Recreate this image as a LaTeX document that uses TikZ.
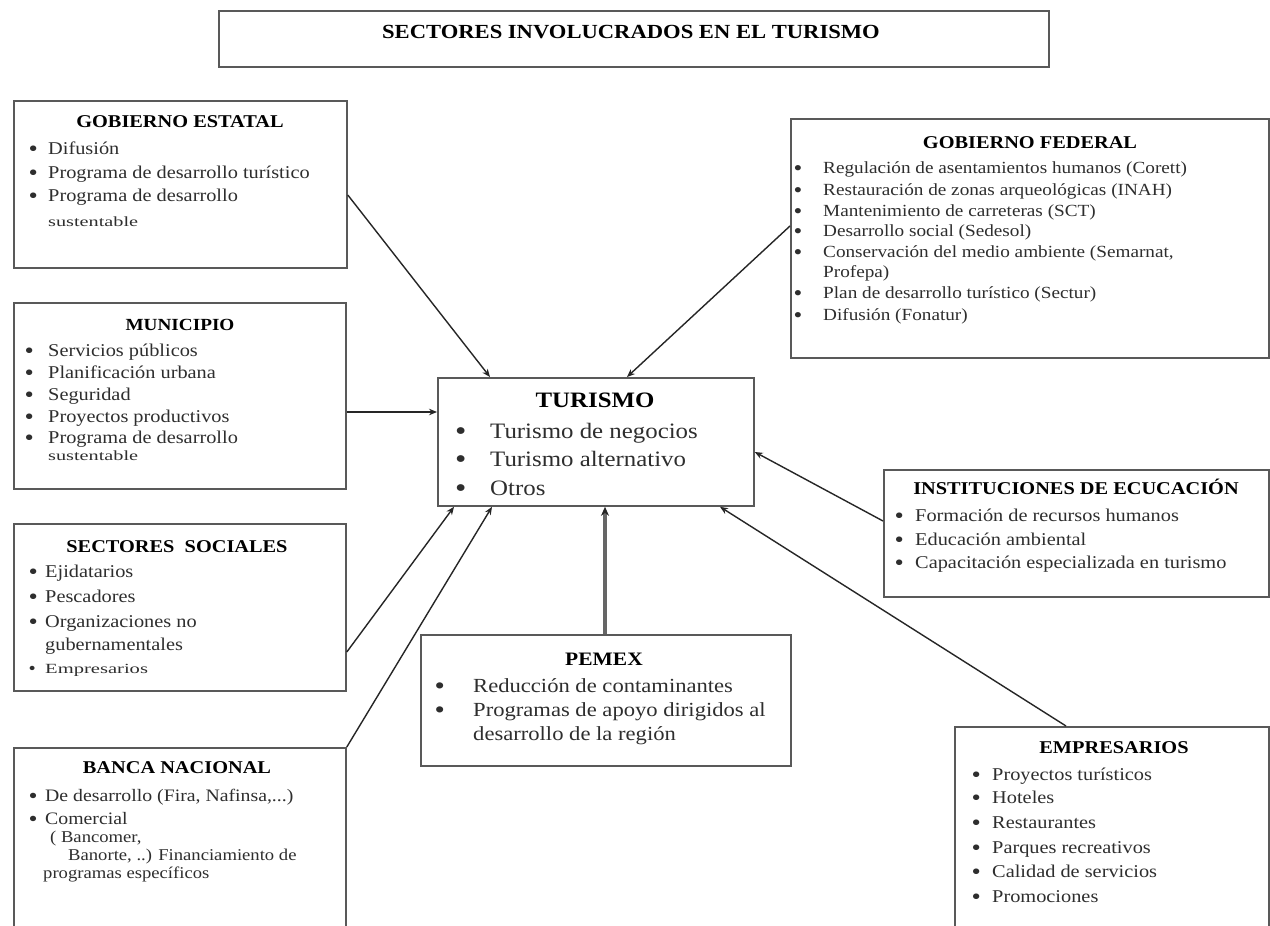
\documentclass[tikz,border=0pt]{standalone}
\usepackage{graphicx}
\usepackage{fontspec}
\setmainfont{Liberation Serif}[FakeStretch=1.13]
\usetikzlibrary{arrows.meta,calc}
\newcommand\bu[1]{\llap{\makebox[#1pt][l]{\raisebox{-0.13em}{\scalebox{1.3}{\textbullet}}}}}
\newcommand\fs[1]{\fontsize{#1}{#1}\selectfont}
\newcommand\widen[2]{\scalebox{#1}[1]{#2}}
\begin{document}
\begin{tikzpicture}[x=1pt,y=-1pt,
  box/.style={draw=black!65, line width=1.8pt, fill=white, anchor=north west, inner sep=0pt},
  head/.style={anchor=base, font=\fs{18}\bfseries, inner sep=0pt},
  itm/.style={anchor=base west, font=\fs{18}, text=black!82, inner sep=0pt},
  arr/.style={draw=black!85, line width=1.4pt, -{Stealth[length=8pt,width=6.5pt]}},
  parr/.style={draw=black!60, line width=3.2pt, -{Stealth[length=9pt,width=8pt,color=black!85]}},
]
\useasboundingbox (0,0) rectangle (1270,926);
\fill[white] (0,0) rectangle (1270,926);
\clip (0,0) rectangle (1270,926);

% boxes
\node[box, minimum width=830, minimum height=56] (title) at (218,10) {};
\node[box, minimum width=333, minimum height=167] (gobest) at (13,100) {};
\node[box, minimum width=478, minimum height=239] (gobfed) at (790,118) {};
\node[box, minimum width=332, minimum height=186] (muni) at (13,302) {};
\node[box, minimum width=316, minimum height=128] (turismo) at (437,377) {};
\node[box, minimum width=385, minimum height=127] (inst) at (883,469) {};
\node[box, minimum width=332, minimum height=167] (sect) at (13,523) {};
\node[box, minimum width=370, minimum height=131] (pemex) at (420,634) {};
\node[box, minimum width=332, minimum height=220] (banca) at (13,747) {};
\node[box, minimum width=314, minimum height=240] (empres) at (954,726) {};

% title
\node[head, font=\fs{20}\bfseries] (title-t) at (631,38.5) {SECTORES INVOLUCRADOS EN EL TURISMO};

% gobierno estatal
\node[head] (ge-h) at (180,127) {GOBIERNO ESTATAL};
\node[itm] (ge1) at (48,154) {\bu{19.5}Difusión};
\node[itm] (ge2) at (48,178) {\bu{19.5}Programa de desarrollo turístico};
\node[itm] (ge3) at (48,201) {\bu{19.5}Programa de desarrollo};
\node[itm, font=\fs{14}] (ge4) at (48,226) {\widen{1.28}{sustentable}};

% municipio
\node[head, font=\fs{17}\bfseries] (mu-h) at (180,330) {MUNICIPIO};
\node[itm] (mu1) at (48,356) {\bu{23.5}Servicios públicos};
\node[itm] (mu2) at (48,378) {\bu{23.5}Planificación urbana};
\node[itm] (mu3) at (48,400) {\bu{23.5}Seguridad};
\node[itm] (mu4) at (48,422) {\bu{23.5}Proyectos productivos};
\node[itm] (mu5) at (48,443) {\bu{23.5}Programa de desarrollo};
\node[itm, font=\fs{14}] (mu6) at (48,460) {\widen{1.28}{sustentable}};

% sectores sociales
\node[head] (se-h) at (177,552) {SECTORES\ \ SOCIALES};
\node[itm] (se1) at (45,577) {\bu{16.5}Ejidatarios};
\node[itm] (se2) at (45,602) {\bu{16.5}Pescadores};
\node[itm] (se3) at (45,627) {\bu{16.5}Organizaciones no};
\node[itm] (se4) at (45,650) {gubernamentales};
\node[itm, font=\fs{14}] (se5) at (45,673) {\bu{16.5}\widen{1.3}{Empresarios}};

% banca nacional
\node[head] (ba-h) at (177,773) {BANCA NACIONAL};
\node[itm, font=\fs{17.5}] (ba1) at (45,801) {\bu{16.5}De desarrollo (Fira, Nafinsa,...)};
\node[itm, font=\fs{17.5}] (ba2) at (45,824) {\bu{16.5}Comercial};
\node[itm, font=\fs{16.5}] (ba3) at (50,842) {( Bancomer,};
\node[itm, font=\fs{16.5}] (ba4) at (68,860) {Banorte, ..) Financiamiento de};
\node[itm, font=\fs{16.5}] (ba5) at (43,878) {programas específicos};

% turismo
\node[head, font=\fs{22}\bfseries] (tu-h) at (595,407) {TURISMO};
\node[itm, font=\fs{22}] (tu1) at (490,438) {\bu{35}Turismo de negocios};
\node[itm, font=\fs{22}] (tu2) at (490,466) {\bu{35}Turismo alternativo};
\node[itm, font=\fs{22}] (tu3) at (490,495) {\bu{35}Otros};

% gobierno federal
\node[head] (gf-h) at (1030,148) {GOBIERNO FEDERAL};
\node[itm, font=\fs{17}] (gf1) at (823,173) {\bu{29.5}Regulación de asentamientos humanos (Corett)};
\node[itm, font=\fs{17}] (gf2) at (823,195) {\bu{29.5}Restauración de zonas arqueológicas (INAH)};
\node[itm, font=\fs{17}] (gf3) at (823,216) {\bu{29.5}Mantenimiento de carreteras (SCT)};
\node[itm, font=\fs{17}] (gf4) at (823,236) {\bu{29.5}Desarrollo social (Sedesol)};
\node[itm, font=\fs{17}] (gf5) at (823,257) {\bu{29.5}Conservación del medio ambiente (Semarnat,};
\node[itm, font=\fs{17}] (gf6) at (823,277) {Profepa)};
\node[itm, font=\fs{17}] (gf7) at (823,298) {\bu{29.5}Plan de desarrollo turístico (Sectur)};
\node[itm, font=\fs{17}] (gf8) at (823,320) {\bu{29.5}Difusión (Fonatur)};

% instituciones
\node[head] (in-h) at (1076,494) {INSTITUCIONES DE ECUCACIÓN};
\node[itm] (in1) at (915,521) {\bu{20.5}Formación de recursos humanos};
\node[itm] (in2) at (915,545) {\bu{20.5}Educación ambiental};
\node[itm] (in3) at (915,568) {\bu{20.5}Capacitación especializada en turismo};

% pemex
\node[head, font=\fs{19}\bfseries] (pe-h) at (604,665) {PEMEX};
\node[itm, font=\fs{20}] (pe1) at (473,692) {\bu{38.5}Reducción de contaminantes};
\node[itm, font=\fs{20}] (pe2) at (473,716) {\bu{38.5}Programas de apoyo dirigidos al};
\node[itm, font=\fs{20}] (pe3) at (473,740) {desarrollo de la región};

% empresarios
\node[head] (em-h) at (1114,753) {EMPRESARIOS};
\node[itm] (em1) at (992,780) {\bu{20.5}Proyectos turísticos};
\node[itm] (em2) at (992,803) {\bu{20.5}Hoteles};
\node[itm] (em3) at (992,828) {\bu{20.5}Restaurantes};
\node[itm] (em4) at (992,853) {\bu{20.5}Parques recreativos};
\node[itm] (em5) at (992,877) {\bu{20.5}Calidad de servicios};
\node[itm] (em6) at (992,902) {\bu{20.5}Promociones};

% connectors
\draw[arr] (gobest.east |- 0,195) -- (turismo.north -| 490,0);
\draw[arr] (gobfed.west |- 0,226) -- (turismo.north -| 627,0);
\draw[arr] (muni.east |- 0,412) -- (turismo.west |- 0,412);
\draw[arr] (sect.east |- 0,652) -- (turismo.south -| 454,0);
\draw[arr] (banca.north east) -- (turismo.south -| 492,0);
\draw[parr] (pemex.north -| 605,0) -- (turismo.south -| 605,0);
\draw[arr] (inst.west |- 0,521) -- (turismo.east |- 0,452);
\draw[arr] (empres.north -| 1066,0) -- (turismo.south -| 720,0);
\end{tikzpicture}
\end{document}
